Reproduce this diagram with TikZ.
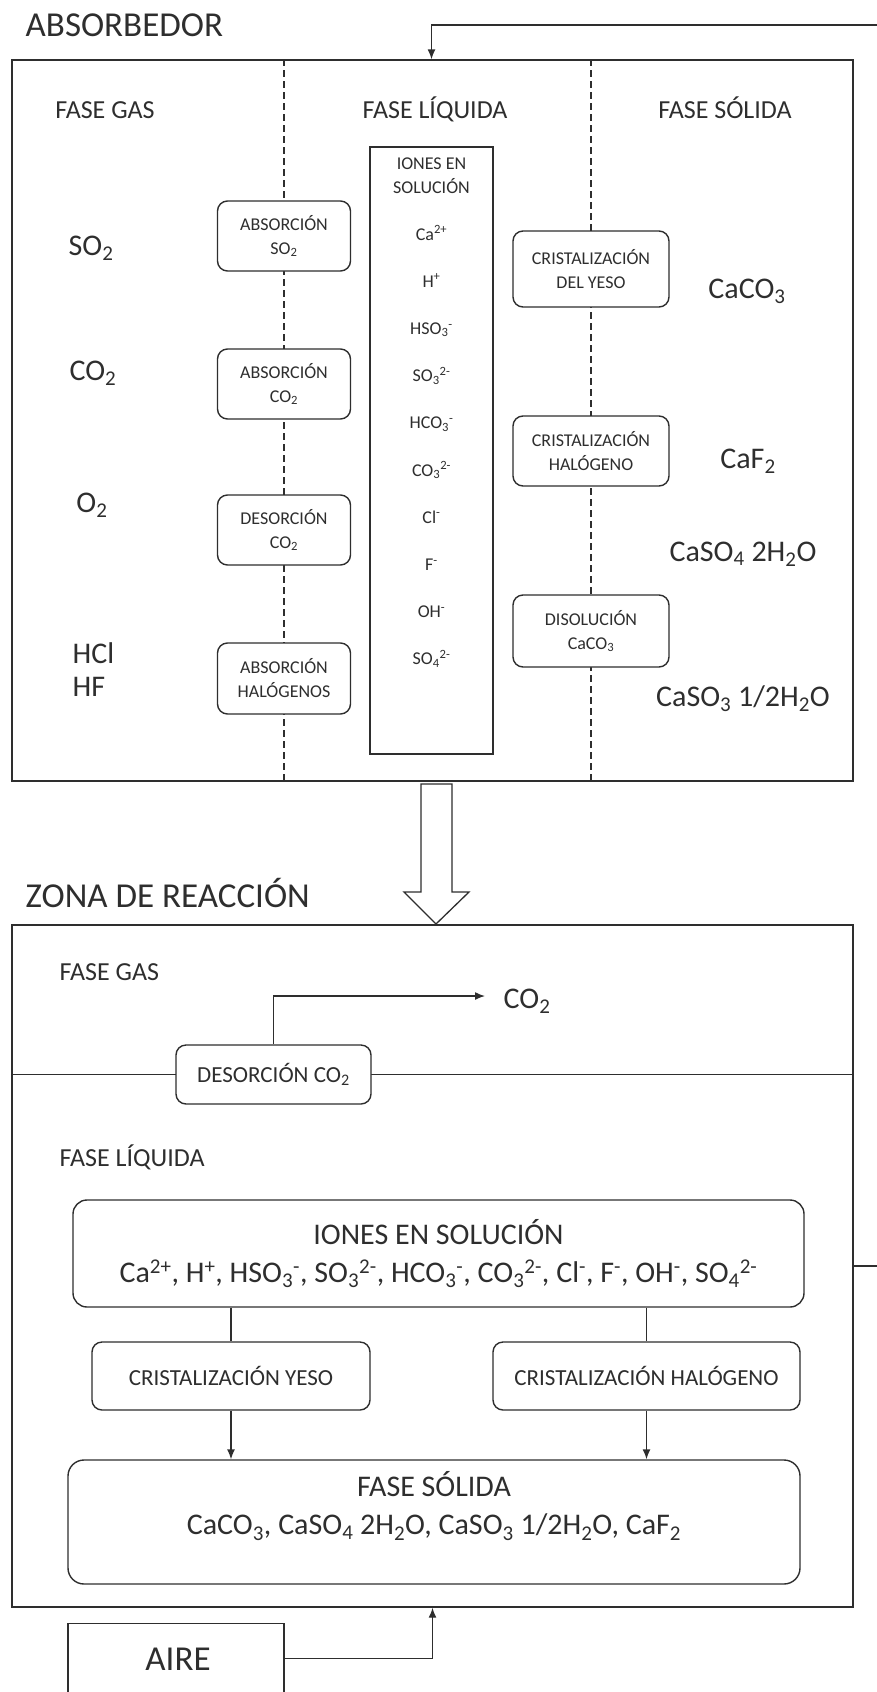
\documentclass[tikz,border=0pt]{standalone}
\usepackage{fontspec}
\setmainfont{Carlito}
\usetikzlibrary{positioning,arrows.meta}
\newcommand{\bajo}[1]{\textsubscript{#1}}
\newcommand{\alto}[1]{\textsuperscript{#1}}

\begin{document}
\begin{tikzpicture}[
x=1pt, y=-1pt,
color=black!82,
line width=1.4pt,
caja/.style={
  draw,
  fill=white,
  rounded corners=10pt,
  align=center,
  inner sep=2pt
  },
etiq/.style={inner sep=0pt, anchor=base},
chico/.style={font=\fontsize{18}{24}\selectfont},
medio/.style={font=\fontsize{23}{28}\selectfont},
fase/.style={font=\fontsize{26}{31}\selectfont},
grande/.style={font=\fontsize{30}{38}\selectfont},
titulo/.style={font=\fontsize{35}{40}\selectfont},
divis/.style={dash pattern=on 7pt off 4pt, line width=1.2pt},
flecha/.style={-{Latex[length=10pt,width=8pt]}}
]
\clip (0,0) rectangle (877,1692);

\node[titulo,etiq,anchor=base west] (tabs) at (25,36) {ABSORBEDOR};
\node[draw,minimum width=841pt,minimum height=721pt] (absorbedor) at (432.5,420.5) {};
\node[fase,etiq] (hgas) at (105,118) {FASE GAS};
\node[fase,etiq] (hliq) at (435,118) {FASE LÍQUIDA};
\node[fase,etiq] (hsol) at (725,118) {FASE SÓLIDA};

\draw[divis] (284,0 |- absorbedor.north) -- (284,0 |- absorbedor.south);
\draw[divis] (591,0 |- absorbedor.north) -- (591,0 |- absorbedor.south);

\node[grande,etiq] (gSO2) at (91,255) {SO\bajo{2}};
\node[grande,etiq] (gCO2) at (93,380) {CO\bajo{2}};
\node[grande,etiq] (gO2) at (92,512) {O\bajo{2}};
\node[grande,etiq,anchor=base west] (gHCl) at (72,663) {HCl};
\node[grande,etiq,anchor=base west] (gHF) at (72,696) {HF};

\node[caja,chico,minimum width=133pt,minimum height=70pt] (absSO2) at (284,236) {ABSORCIÓN\\SO\bajo{2}};
\node[caja,chico,minimum width=133pt,minimum height=70pt] (absCO2) at (284,384) {ABSORCIÓN\\CO\bajo{2}};
\node[caja,chico,minimum width=133pt,minimum height=70pt] (desCO2) at (284,530) {DESORCIÓN\\CO\bajo{2}};
\node[caja,chico,minimum width=133pt,minimum height=71pt] (absHal) at (284,678.5) {ABSORCIÓN\\HALÓGENOS};

\node[draw,fill=white,minimum width=123pt,minimum height=607pt] (ionesA) at (431.5,450.5) {};
\node[chico,etiq] (ionesT1) at (431.5,169) {IONES EN};
\node[chico,etiq] (ionesT2) at (431.5,193) {SOLUCIÓN};
\foreach \ion [count=\k from 0] in {Ca\alto{2+},H\alto{+},HSO\bajo{3}\alto{-},SO\bajo{3}\alto{2-},HCO\bajo{3}\alto{-},CO\bajo{3}\alto{2-},Cl\alto{-},F\alto{-},OH\alto{-},SO\bajo{4}\alto{2-}}
  \node[chico,etiq] (ion\k) at (431.5,{240+47.2*\k}) {\ion};

\node[caja,chico,minimum width=156pt,minimum height=76pt] (cristYA) at (591,269) {CRISTALIZACIÓN\\DEL YESO};
\node[caja,chico,minimum width=156pt,minimum height=70pt] (cristHA) at (591,451) {CRISTALIZACIÓN\\HALÓGENO};
\node[caja,chico,minimum width=156pt,minimum height=72pt] (disCaCO3) at (591,631) {DISOLUCIÓN\\CaCO\bajo{3}};

\node[grande,etiq] (sCaCO3) at (747,298) {CaCO\bajo{3}};
\node[grande,etiq] (sCaF2) at (748,468) {CaF\bajo{2}};
\node[grande,etiq] (sCaSO4) at (743,561) {CaSO\bajo{4} 2H\bajo{2}O};
\node[grande,etiq] (sCaSO3) at (743,706) {CaSO\bajo{3} 1/2H\bajo{2}O};

\coordinate (recIn) at (877,25);
\draw[flecha] (recIn) -| (ionesA.north |- absorbedor.north);

\draw[fill=white,line width=1.3pt] (421,784) -- (452,784) -- (452,892) -- (469,892) -- (436,924)
  -- (404,892) -- (421,892) -- cycle;

\node[titulo,etiq,anchor=base west] (tzona) at (25,907) {ZONA DE REACCIÓN};
\node[draw,minimum width=841pt,minimum height=682pt] (zona) at (432.5,1266) {};
\node[fase,etiq,anchor=base west] (zgas) at (59,980) {FASE GAS};
\node[fase,etiq,anchor=base west] (zliq) at (59,1166) {FASE LÍQUIDA};

\draw (zona.west |- 0,1074.5) -- (zona.east |- 0,1074.5);
\node[caja,medio,minimum width=195pt,minimum height=59pt] (desZ) at (273.5,1074.5) {DESORCIÓN CO\bajo{2}};
\coordinate (co2Sal) at (485,996);
\node[grande,etiq,anchor=base west] (co2Z) at (503,1008) {CO\bajo{2}};
\draw[flecha] (desZ.north) |- (co2Sal);

\node[draw,rounded corners=14pt,minimum width=731pt,minimum height=107pt,align=center,grande] (ionesZ) at (438.5,1253.5)
  {IONES EN SOLUCIÓN\\Ca\alto{2+}, H\alto{+}, HSO\bajo{3}\alto{-}, SO\bajo{3}\alto{2-}, HCO\bajo{3}\alto{-}, CO\bajo{3}\alto{2-}, Cl\alto{-}, F\alto{-}, OH\alto{-}, SO\bajo{4}\alto{2-}};

\node[caja,medio,minimum width=278pt,minimum height=68pt] (cristY) at (231,1376) {CRISTALIZACIÓN YESO};
\node[caja,medio,minimum width=307pt,minimum height=68pt] (cristH) at (646.5,1376) {CRISTALIZACIÓN HALÓGENO};
\draw (cristY.north |- ionesZ.south) -- (cristY.north);
\draw (cristH.north |- ionesZ.south) -- (cristH.north);

\node[draw,rounded corners=16pt,minimum width=732pt,minimum height=124pt] (solida) at (434,1522) {};
\node[grande,align=center] (solidaTxt) at (434,1506) {FASE SÓLIDA\\CaCO\bajo{3}, CaSO\bajo{4} 2H\bajo{2}O, CaSO\bajo{3} 1/2H\bajo{2}O, CaF\bajo{2}};
\draw[flecha] (cristY.south) -- (cristY.south |- solida.north);
\draw[flecha] (cristH.south) -- (cristH.south |- solida.north);

\coordinate (recOut) at (877,1266);
\draw (zona.east) -- (recOut);

\node[draw,minimum width=216pt,minimum height=140pt,anchor=north] (aire) at (176,1623) {};
\node[titulo,etiq] (aireTxt) at (178,1670) {AIRE};
\draw[flecha] (aireTxt -| aire.east) -| (zona.south);
\end{tikzpicture}
\end{document}
